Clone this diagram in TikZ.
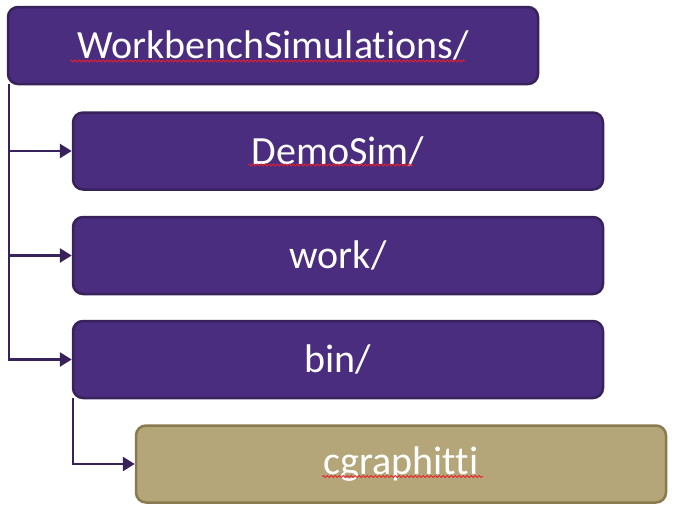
\documentclass[tikz,border=0pt]{standalone}
\usepackage{fontspec}
\setmainfont{Carlito}[Ligatures={NoCommon,NoRare,NoContextual}]
\usetikzlibrary{arrows.meta,decorations.pathmorphing}
\definecolor{purplefill}{HTML}{4B2D7F}
\definecolor{purpleedge}{HTML}{38225C}
\definecolor{tanfill}{HTML}{B5A67A}
\definecolor{tanedge}{HTML}{8A7A50}
\definecolor{squig}{HTML}{E8202A}
\tikzset{
  dirbox/.style={draw=purpleedge, fill=purplefill, line width=2.5pt, rounded corners=10pt,
    minimum width=530pt, minimum height=77pt, inner sep=0pt, text=white,
    font=\fontsize{40}{44}\selectfont},
  filebox/.style={dirbox, draw=tanedge, fill=tanfill},
  link/.style={draw=purpleedge, line width=2.8pt, -{Triangle[length=12pt,width=14pt]}},
  spell/.style={draw=squig, line width=0.8pt, decorate,
    decoration={snake, amplitude=1pt, segment length=4pt}}
}
\begin{document}
\begin{tikzpicture}[x=1pt,y=-1pt]
\useasboundingbox (0,0) rectangle (674,512);
\node[dirbox] (root) at (273,45.5) {WorkbenchSimulations/};
\node[dirbox] (demo) at (338,151) {DemoSim/};
\node[dirbox] (work) at (338,255.5) {work/};
\node[dirbox] (bin) at (338,359.5) {bin/};
\node[filebox] (cg) at (401,464) {cgraphitti};
\coordinate (t1) at (9,84);
\coordinate (t2) at (73,398);
\draw[link] (t1) |- (demo.west);
\draw[link] (t1) |- (work.west);
\draw[link] (t1) |- (bin.west);
\draw[link] (t2) |- (cg.west);
\path[spell] (70,61) -- (465,61);
\path[spell] (248,165) -- (413,165);
\path[spell] (322,476.5) -- (483,476.5);
\end{tikzpicture}
\end{document}
